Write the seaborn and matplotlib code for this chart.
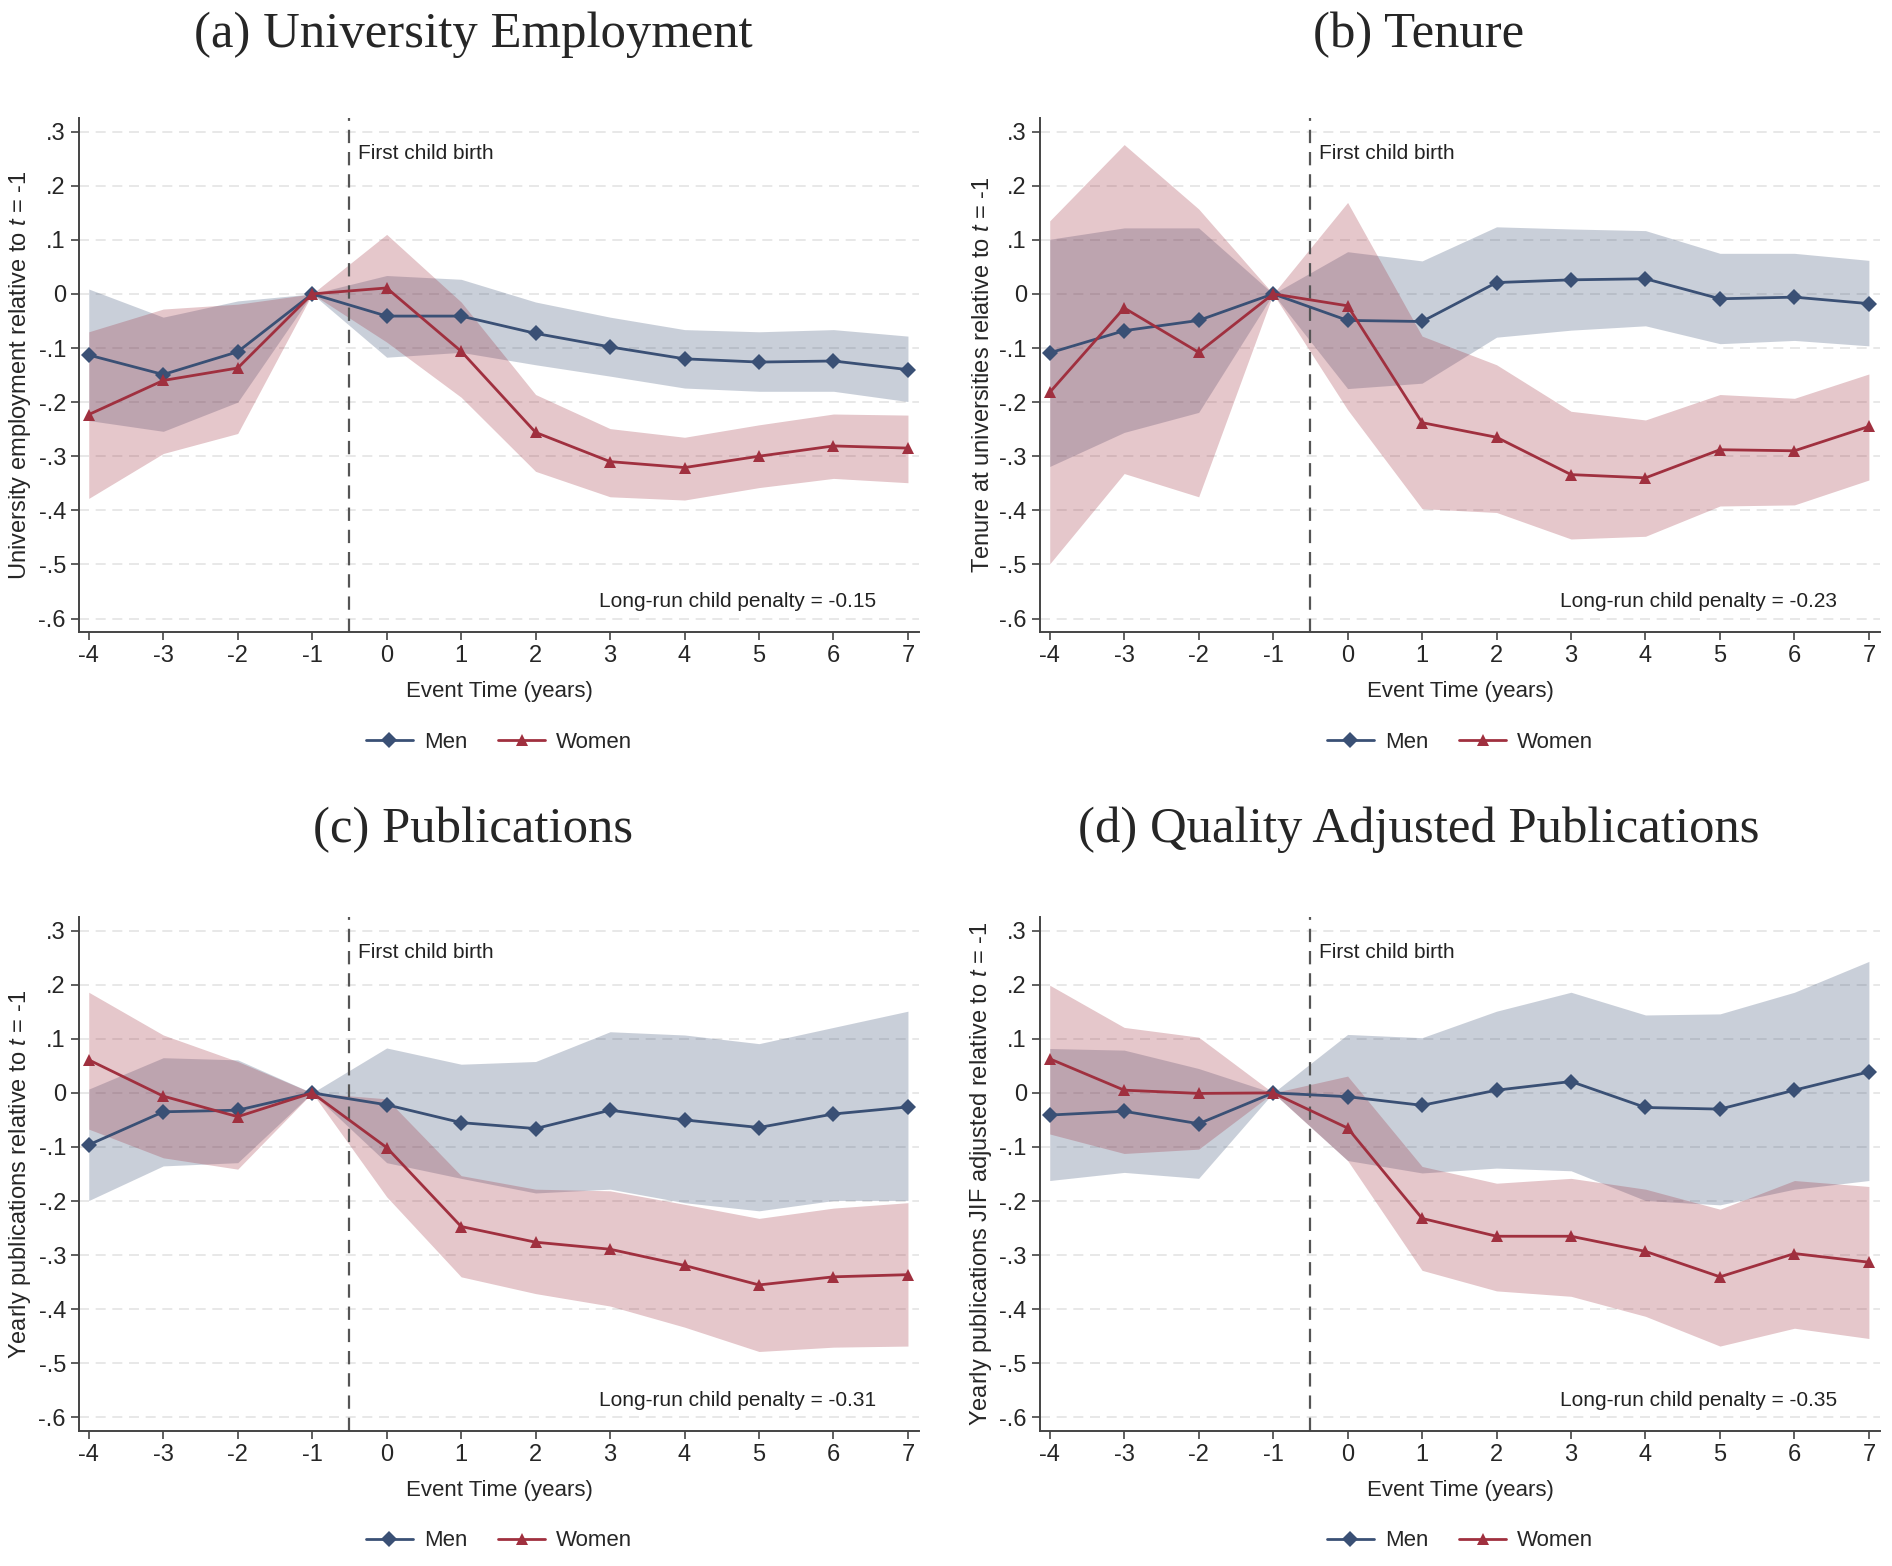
import matplotlib as mpl
import numpy as np
import pandas as pd
import seaborn as sns
from matplotlib import pyplot as plt

mpl.use('Agg')

EVENT_TIME = [-4, -3, -2, -1, 0, 1, 2, 3, 4, 5, 6, 7]

# (a) University employment
EMP_MEN = [-0.113, -0.149, -0.107, 0, -0.041, -0.041, -0.073, -0.098, -0.120, -0.126, -0.124, -0.140]
EMP_MEN_HI = [0.009, -0.043, -0.013, 0, 0.034, 0.027, -0.015, -0.043, -0.066, -0.070, -0.066, -0.078]
EMP_MEN_LO = [-0.234, -0.254, -0.200, 0, -0.117, -0.108, -0.131, -0.152, -0.174, -0.180, -0.180, -0.199]
EMP_WOMEN = [-0.223, -0.160, -0.137, 0, 0.011, -0.106, -0.256, -0.310, -0.321, -0.300, -0.281, -0.285]
EMP_WOMEN_HI = [-0.070, -0.028, -0.019, 0, 0.110, -0.015, -0.186, -0.249, -0.265, -0.242, -0.222, -0.224]
EMP_WOMEN_LO = [-0.378, -0.295, -0.258, 0, -0.089, -0.191, -0.328, -0.375, -0.381, -0.358, -0.341, -0.349]

# (b) Tenure
TEN_MEN = [-0.109, -0.068, -0.049, 0, -0.049, -0.051, 0.021, 0.026, 0.028, -0.009, -0.006, -0.018]
TEN_MEN_HI = [0.101, 0.122, 0.122, 0, 0.078, 0.061, 0.124, 0.120, 0.117, 0.075, 0.075, 0.062]
TEN_MEN_LO = [-0.319, -0.256, -0.219, 0, -0.175, -0.165, -0.080, -0.067, -0.059, -0.092, -0.086, -0.096]
TEN_WOMEN = [-0.182, -0.026, -0.108, 0, -0.022, -0.238, -0.265, -0.334, -0.340, -0.288, -0.290, -0.245]
TEN_WOMEN_HI = [0.135, 0.276, 0.157, 0, 0.169, -0.078, -0.131, -0.217, -0.233, -0.186, -0.193, -0.148]
TEN_WOMEN_LO = [-0.499, -0.332, -0.375, 0, -0.214, -0.397, -0.404, -0.453, -0.448, -0.392, -0.390, -0.344]

# (c) Publications
PUB_MEN = [-0.096, -0.035, -0.032, 0, -0.022, -0.055, -0.066, -0.032, -0.050, -0.064, -0.039, -0.026]
PUB_MEN_HI = [0.007, 0.065, 0.061, 0, 0.083, 0.053, 0.058, 0.113, 0.107, 0.091, 0.121, 0.151]
PUB_MEN_LO = [-0.199, -0.135, -0.129, 0, -0.129, -0.158, -0.185, -0.178, -0.203, -0.218, -0.199, -0.199]
PUB_WOMEN = [0.061, -0.006, -0.044, 0, -0.101, -0.247, -0.276, -0.289, -0.319, -0.355, -0.340, -0.336]
PUB_WOMEN_HI = [0.186, 0.107, 0.058, 0, -0.011, -0.153, -0.178, -0.181, -0.206, -0.232, -0.213, -0.203]
PUB_WOMEN_LO = [-0.067, -0.120, -0.141, 0, -0.192, -0.340, -0.371, -0.394, -0.433, -0.478, -0.470, -0.468]

# (d) Quality adjusted publications
JIF_MEN = [-0.041, -0.034, -0.057, 0, -0.007, -0.023, 0.005, 0.021, -0.027, -0.030, 0.005, 0.039]
JIF_MEN_HI = [0.082, 0.079, 0.045, 0, 0.108, 0.102, 0.151, 0.186, 0.144, 0.146, 0.186, 0.243]
JIF_MEN_LO = [-0.162, -0.147, -0.158, 0, -0.125, -0.148, -0.139, -0.144, -0.199, -0.207, -0.178, -0.162]
JIF_WOMEN = [0.063, 0.005, -0.001, 0, -0.065, -0.232, -0.265, -0.265, -0.293, -0.340, -0.297, -0.313]
JIF_WOMEN_HI = [0.199, 0.121, 0.103, 0, 0.031, -0.136, -0.167, -0.158, -0.178, -0.215, -0.162, -0.173]
JIF_WOMEN_LO = [-0.076, -0.112, -0.104, 0, -0.125, -0.328, -0.366, -0.376, -0.413, -0.468, -0.435, -0.454]

TITLES = ['(a) University Employment', '(b) Tenure', '(c) Publications',
          '(d) Quality Adjusted Publications']
YLABELS = [r'University employment relative to $\mathit{t}$ = -1',
           r'Tenure at universities relative to $\mathit{t}$ = -1',
           r'Yearly publications relative to $\mathit{t}$ = -1',
           r'Yearly publications JIF adjusted relative to $\mathit{t}$ = -1']
PENALTIES = ['-0.15', '-0.23', '-0.31', '-0.35']
Y_TICKS = [0.3, 0.2, 0.1, 0, -0.1, -0.2, -0.3, -0.4, -0.5, -0.6]
Y_TICKLABELS = ['.3', '.2', '.1', '0', '-.1', '-.2', '-.3', '-.4', '-.5', '-.6']

MEN_COLOR = '#3a5075'
WOMEN_COLOR = '#a0303f'
SANS = ['Liberation Sans', 'DejaVu Sans']

sns.set_style('white')
plt.rcParams['font.family'] = SANS
plt.rcParams['mathtext.fontset'] = 'custom'
plt.rcParams['mathtext.rm'] = 'Liberation Sans'
plt.rcParams['mathtext.it'] = 'Liberation Sans:italic'


def plotPanel(ax, men, menLo, menHi, women, womenLo, womenHi, ylabel, penalty):
    df = pd.DataFrame({
        'T': EVENT_TIME * 2,
        'VALUE': men + women,
        'GROUP': ['Men'] * len(EVENT_TIME) + ['Women'] * len(EVENT_TIME)
    })

    for y in Y_TICKS:
        ax.axhline(y, color='#e4e4e4', lw=1.2, ls=(0, (6, 4)), zorder=0)

    ax.fill_between(EVENT_TIME, menLo, menHi, color=MEN_COLOR, alpha=0.27, lw=0, zorder=1)
    ax.fill_between(EVENT_TIME, womenLo, womenHi, color=WOMEN_COLOR, alpha=0.27, lw=0, zorder=1)

    sns.lineplot(data=df, x='T', y='VALUE', hue='GROUP', style='GROUP',
                 palette={'Men': MEN_COLOR, 'Women': WOMEN_COLOR},
                 markers={'Men': 'D', 'Women': '^'}, dashes=False,
                 markersize=8, markeredgewidth=0, lw=2, ax=ax, zorder=3)

    ax.axvline(-0.5, color='#555555', lw=1.6, ls=(0, (6, 4)), zorder=2)
    ax.text(-0.38, 0.26, 'First child birth', fontsize=15,
            ha='left', va='center', color='#222222')
    ax.text(4.71, -0.569, 'Long-run child penalty = ' + penalty, fontsize=15,
            ha='center', va='center', color='#222222')

    ax.set_xlim(-4.13, 7.15)
    ax.set_ylim(-0.625, 0.325)
    ax.set_xticks(EVENT_TIME)
    ax.set_xticklabels([str(t) for t in EVENT_TIME])
    ax.set_yticks(Y_TICKS)
    ax.set_yticklabels(Y_TICKLABELS)
    ax.tick_params(axis='both', labelsize=17, length=6, width=1.2,
                   color='#444444', direction='out', left=True, bottom=True)
    for side in ['top', 'right']:
        ax.spines[side].set_visible(False)
    for side in ['left', 'bottom']:
        ax.spines[side].set_color('#444444')
        ax.spines[side].set_linewidth(1.4)

    ax.set_xlabel('Event Time (years)', fontsize=16, labelpad=10)
    ax.set_ylabel(ylabel, fontsize=17, labelpad=4)

    handles, labels = ax.get_legend_handles_labels()
    ax.legend(handles, labels, loc='center', bbox_to_anchor=(0.5, -0.214),
              ncol=2, frameon=False, handlelength=2.1, handletextpad=0.5,
              columnspacing=1.4, prop={'size': 16})


fig = plt.figure(figsize=(18.92, 15.66), dpi=100)
positions = [
    [0.0418, 0.5964, 0.444, 0.3282],
    [0.5497, 0.5964, 0.444, 0.3282],
    [0.0418, 0.0862, 0.444, 0.3282],
    [0.5497, 0.0862, 0.444, 0.3282],
]
series = [
    (EMP_MEN, EMP_MEN_LO, EMP_MEN_HI, EMP_WOMEN, EMP_WOMEN_LO, EMP_WOMEN_HI),
    (TEN_MEN, TEN_MEN_LO, TEN_MEN_HI, TEN_WOMEN, TEN_WOMEN_LO, TEN_WOMEN_HI),
    (PUB_MEN, PUB_MEN_LO, PUB_MEN_HI, PUB_WOMEN, PUB_WOMEN_LO, PUB_WOMEN_HI),
    (JIF_MEN, JIF_MEN_LO, JIF_MEN_HI, JIF_WOMEN, JIF_WOMEN_LO, JIF_WOMEN_HI),
]
titleY = [0.978, 0.978, 0.470, 0.470]
titleX = [0.25, 0.75, 0.25, 0.75]

for i in range(4):
    ax = fig.add_axes(positions[i])
    plotPanel(ax, *series[i], YLABELS[i], PENALTIES[i])
    fig.text(titleX[i], titleY[i], TITLES[i], fontsize=36.5, ha='center', va='center',
             family=['Liberation Serif', 'DejaVu Serif'])

fig.savefig('out.png', dpi=100)
